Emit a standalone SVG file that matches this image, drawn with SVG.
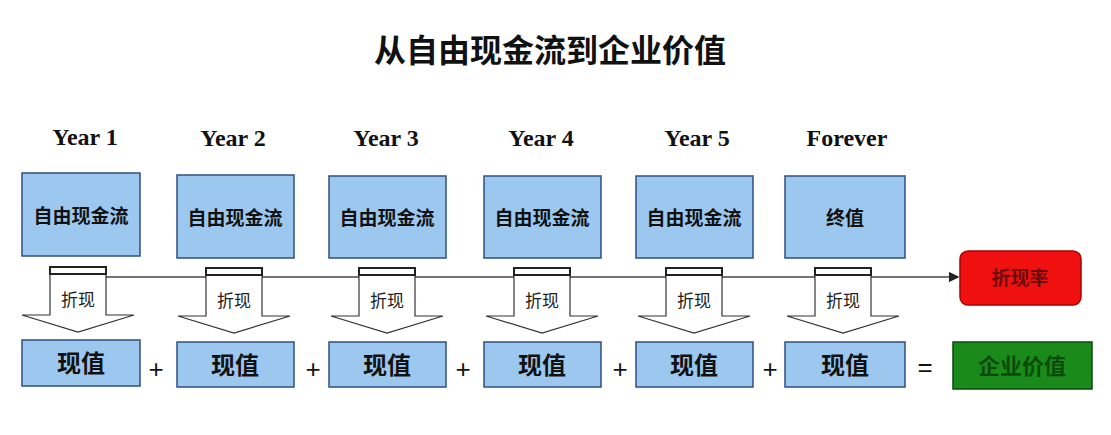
<svg xmlns="http://www.w3.org/2000/svg" width="1111" height="435" viewBox="0 0 1111 435">
<defs>
<style>
.yr{font:bold 24px "Liberation Serif",serif;fill:#111;text-anchor:middle}
.box{fill:#9cc8f0;stroke:#2f4f7f;stroke-width:1.5}
.t1{font:bold 19px "Noto Sans CJK SC",sans-serif;fill:#111;text-anchor:middle}
.t2{font:bold 24px "Noto Sans CJK SC",sans-serif;fill:#111;text-anchor:middle}
.ar{fill:#fff;stroke:#333;stroke-width:1.2}
.ta{font:17px "Noto Sans CJK SC",sans-serif;fill:#222;text-anchor:middle}
.op{font:26px "Liberation Sans",sans-serif;fill:#111;text-anchor:middle}
</style>
<marker id="m" markerWidth="8" markerHeight="8" refX="7" refY="4" orient="auto"><path d="M0,0L8,4L0,8z" fill="#222"/></marker>
<g id="arw"><path class="ar" d="M28,-2V46H0L56,63L112,46H84V-2Z"/><rect x="28" y="-2" width="56" height="7" fill="#fff" stroke="#222" stroke-width="2"/></g>
</defs>
<rect width="1111" height="435" fill="#fff"/>
<text x="550" y="62" font-family="Noto Sans CJK SC,sans-serif" font-size="32" font-weight="bold" text-anchor="middle" fill="#111">从自由现金流到企业价值</text>
<g id="connectors"><line x1="106" y1="277" x2="958" y2="277" stroke="#444" stroke-width="1.3" marker-end="url(#m)"/></g>
<g id="n1"><text class="yr" x="85" y="145">Year 1</text><rect class="box" x="22" y="173" width="118" height="83"/><text class="t1" x="81" y="223">自由现金流</text><use href="#arw" x="22" y="269"/><text class="ta" x="78" y="306">折现</text><rect class="box" x="22" y="340" width="118" height="46"/><text class="t2" x="81" y="372">现值</text></g>
<g id="n2"><text class="yr" x="233" y="146">Year 2</text><rect class="box" x="177" y="175" width="117" height="83"/><text class="t1" x="235" y="225">自由现金流</text><use href="#arw" x="178" y="270"/><text class="ta" x="234" y="307">折现</text><rect class="box" x="177" y="342" width="117" height="45"/><text class="t2" x="235" y="374">现值</text></g>
<g id="n3"><text class="yr" x="386" y="146">Year 3</text><rect class="box" x="329" y="176" width="117" height="82"/><text class="t1" x="387" y="225">自由现金流</text><use href="#arw" x="331" y="270"/><text class="ta" x="387" y="307">折现</text><rect class="box" x="329" y="342" width="117" height="45"/><text class="t2" x="387" y="374">现值</text></g>
<g id="n4"><text class="yr" x="541" y="146">Year 4</text><rect class="box" x="484" y="176" width="117" height="82"/><text class="t1" x="542" y="225">自由现金流</text><use href="#arw" x="486" y="270"/><text class="ta" x="542" y="307">折现</text><rect class="box" x="484" y="342" width="117" height="45"/><text class="t2" x="542" y="374">现值</text></g>
<g id="n5"><text class="yr" x="697" y="146">Year 5</text><rect class="box" x="636" y="176" width="117" height="82"/><text class="t1" x="694" y="225">自由现金流</text><use href="#arw" x="638" y="270"/><text class="ta" x="694" y="307">折现</text><rect class="box" x="636" y="342" width="117" height="45"/><text class="t2" x="694" y="374">现值</text></g>
<g id="n6"><text class="yr" x="847" y="146">Forever</text><rect class="box" x="785" y="176" width="120" height="82"/><text class="t1" x="845" y="225">终值</text><use href="#arw" x="787" y="270"/><text class="ta" x="843" y="307">折现</text><rect class="box" x="785" y="342" width="120" height="45"/><text class="t2" x="845" y="374">现值</text></g>
<g id="ops"><text class="op" x="156" y="378">+</text><text class="op" x="313" y="378">+</text><text class="op" x="463" y="378">+</text><text class="op" x="620" y="378">+</text><text class="op" x="770" y="378">+</text><text class="op" x="925" y="376">=</text></g>
<g id="rate"><rect x="960" y="251" width="121" height="54" rx="8" fill="#f01010" stroke="#a00" stroke-width="1.5"/><text x="1020" y="285" font-family="Noto Sans CJK SC,sans-serif" font-size="19" font-weight="bold" fill="#6a0a0a" text-anchor="middle">折现率</text></g>
<g id="ev"><rect x="953" y="342" width="139" height="47" fill="#1a8a1a" stroke="#0a4a0a" stroke-width="1.5"/><text x="1022" y="374" font-family="Noto Sans CJK SC,sans-serif" font-size="22" font-weight="bold" fill="#0c4a0c" text-anchor="middle">企业价值</text></g>
</svg>
